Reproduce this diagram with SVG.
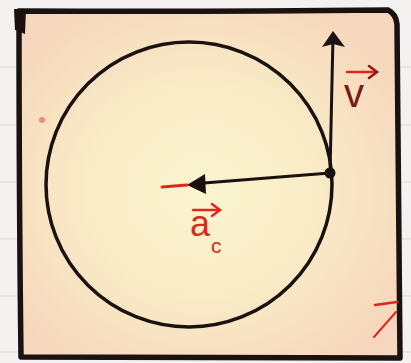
<svg xmlns="http://www.w3.org/2000/svg" width="411" height="363" viewBox="0 0 411 363">
<defs>
<radialGradient id="paper" cx="0.48" cy="0.52" r="0.62">
<stop offset="0" stop-color="#fbf5cf"/>
<stop offset="0.5" stop-color="#f9ebc6"/>
<stop offset="1" stop-color="#f6d6bc"/>
</radialGradient>
<style>
.rule{stroke:#d9dbe0;stroke-width:1}
.ink{stroke:#1a1210;fill:none;stroke-linecap:round;stroke-linejoin:round}
.red{stroke:#e0261c;fill:none;stroke-linecap:round}
.lblR{font-family:"Liberation Sans",Arial,sans-serif;fill:#e0261c}
.lblD{font-family:"Liberation Sans",Arial,sans-serif;fill:#7a1a14}
</style>
</defs>
<rect x="0" y="0" width="411" height="363" fill="#f3f2f0"/>
<g id="rules">
<line class="rule" x1="0" y1="67" x2="411" y2="67"/>
<line class="rule" x1="0" y1="125" x2="411" y2="125"/>
<line class="rule" x1="0" y1="182" x2="411" y2="182"/>
<line class="rule" x1="0" y1="239" x2="411" y2="239"/>
<line class="rule" x1="0" y1="296" x2="411" y2="296"/>
<line class="rule" x1="0" y1="352" x2="411" y2="352"/>
</g>
<g id="frame">
<path d="M19,11 L390,10 L398,18 L400,358 L21,358 Z" fill="url(#paper)"/>
<path class="ink" d="M19,11 Q200,12 388,10 Q396,14 397,24 L400,358 L21,357 Q19,200 19,11" stroke-width="5.5"/>
<path d="M14,9 L26,9 L25,34 L15,30 Z" fill="#1a1210"/>
</g>
<g id="circle">
<ellipse class="ink" cx="189" cy="184.5" rx="143" ry="142.5" stroke-width="3.5"/>
</g>
<g id="connectors">
<line class="ink" x1="330" y1="173" x2="333" y2="36" stroke-width="3"/>
<path d="M333,31 L345,47 L333,44 L322,47 Z" fill="#1a1210"/>
<line class="ink" x1="330" y1="173" x2="204" y2="183" stroke-width="3"/>
<path d="M187,185 L205,174 L206,194 Z" fill="#1a1210"/>
<line class="red" x1="187" y1="185" x2="162" y2="187" stroke-width="3"/>
<circle cx="330" cy="173" r="5.5" fill="#1a1210"/>
</g>
<g id="label-v">
<line class="red" x1="347" y1="72" x2="375" y2="72" stroke="#8a1c14" stroke-width="2.5"/>
<path d="M369,66 L377,72 L369,78" fill="none" stroke="#8a1c14" stroke-width="2.5" stroke-linecap="round"/>
<text class="lblD" x="344" y="107" font-size="40">v</text>
</g>
<g id="label-ac">
<line class="red" x1="193" y1="210" x2="218" y2="210" stroke-width="2.5"/>
<path d="M212,204 L220,210 L212,216" fill="none" stroke="#e0261c" stroke-width="2.5" stroke-linecap="round"/>
<text class="lblR" x="190" y="236" font-size="36">a</text>
<text class="lblR" x="211" y="253" font-size="21">c</text>
</g>
<g id="marks">
<circle cx="42" cy="120" r="3" fill="#ef8a7a"/>
<line class="red" x1="375" y1="305" x2="397" y2="302" stroke-width="2.5"/>
<line class="red" x1="374" y1="337" x2="396" y2="312" stroke-width="2"/>
</g>
</svg>
